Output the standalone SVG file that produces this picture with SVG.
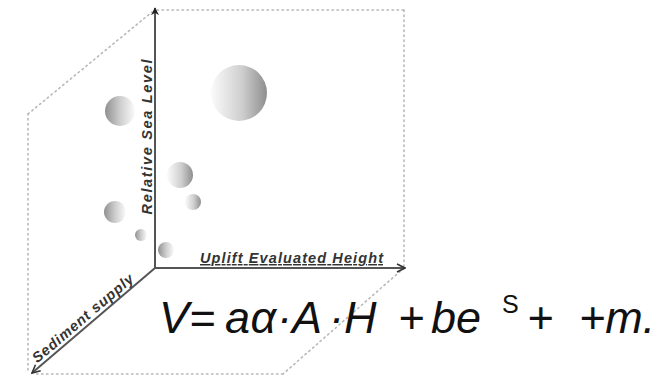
<svg xmlns="http://www.w3.org/2000/svg" width="670" height="379" viewBox="0 0 670 379">
<style>
.dot{fill:none;stroke:#b8b8b8;stroke-width:1.6;stroke-dasharray:1.5 3.5;stroke-linecap:round}
.axis{fill:none;stroke:#555;stroke-width:2}
.lbl{font-family:"Liberation Sans",Arial,sans-serif;font-weight:bold;font-style:italic;font-size:14.5px;fill:#333}
.eq{font-family:"Liberation Sans",Arial,sans-serif;font-style:italic;font-size:45px;fill:#111}
</style>
<defs>
<linearGradient id="gR" x1="0" y1="0" x2="1" y2="0">
<stop offset="0" stop-color="#fbfbfb"/><stop offset="0.55" stop-color="#cfcfcf"/><stop offset="1" stop-color="#8e8e8e"/>
</linearGradient>
<linearGradient id="gL" x1="0" y1="0" x2="1" y2="0">
<stop offset="0" stop-color="#909090"/><stop offset="0.5" stop-color="#cdcdcd"/><stop offset="1" stop-color="#fbfbfb"/>
</linearGradient>
<marker id="filled" viewBox="0 0 10 10" refX="9" refY="5" markerWidth="8" markerHeight="8" orient="auto" markerUnits="userSpaceOnUse">
<path d="M0,0 L10,5 L0,10 L3,5 Z" fill="#222"/>
</marker>
<marker id="open" viewBox="0 0 10 10" refX="9" refY="5" markerWidth="10" markerHeight="10" orient="auto" markerUnits="userSpaceOnUse">
<path d="M1,1 L9,5 L1,9" fill="none" stroke="#333" stroke-width="1.6"/>
</marker>
</defs>

<g id="frame">
<line class="dot" x1="157" y1="10" x2="404" y2="10"/>
<line class="dot" x1="404" y1="10" x2="404" y2="266"/>
<line class="dot" x1="404" y1="268" x2="283" y2="374"/>
<line class="dot" x1="283" y1="374" x2="36" y2="374"/>
<line class="dot" x1="28" y1="370" x2="28" y2="114"/>
<line class="dot" x1="28" y1="114" x2="152" y2="12"/>
</g>

<g id="connectors">
<line class="axis" x1="155" y1="268" x2="155" y2="8" marker-end="url(#filled)"/>
<line class="axis" x1="155" y1="268" x2="405" y2="268" marker-end="url(#open)"/>
<line class="axis" x1="155" y1="268" x2="32" y2="373" marker-end="url(#open)"/>
</g>

<g id="balls">
<circle cx="239" cy="93" r="28" fill="url(#gR)"/>
<circle cx="120" cy="111" r="15" fill="url(#gL)"/>
<circle cx="180" cy="175" r="13" fill="url(#gR)"/>
<circle cx="193" cy="202" r="8" fill="url(#gR)"/>
<circle cx="115" cy="212" r="11" fill="url(#gL)"/>
<circle cx="141" cy="235" r="6" fill="url(#gL)"/>
<circle cx="166" cy="250" r="8" fill="url(#gL)"/>
</g>

<g id="label-sea">
<text class="lbl" transform="translate(152,137) rotate(-90)" text-anchor="middle" textLength="155" lengthAdjust="spacing">Relative Sea Level</text>
</g>
<g id="label-uplift">
<text class="lbl" x="200" y="263" text-decoration="underline" textLength="183" lengthAdjust="spacing">Uplift Evaluated Height</text>
</g>
<g id="label-sediment">
<text class="lbl" transform="translate(86,322) rotate(-40.5)" text-anchor="middle" textLength="128" lengthAdjust="spacing">Sediment supply</text>
</g>

<g id="equation">
<text class="eq" y="333"><tspan x="159">V=</tspan><tspan x="225">a</tspan><tspan x="250.5">α</tspan><tspan x="277">·</tspan><tspan x="292">A</tspan><tspan x="329">·</tspan><tspan x="344">H</tspan><tspan x="398">+</tspan><tspan x="431">be</tspan></text>
<text x="502" y="313" font-family="'Liberation Sans',Arial,sans-serif" font-size="25" fill="#111">S</text>
<text class="eq" y="333"><tspan x="527">+</tspan><tspan x="579">+m.</tspan></text>
</g>
</svg>
